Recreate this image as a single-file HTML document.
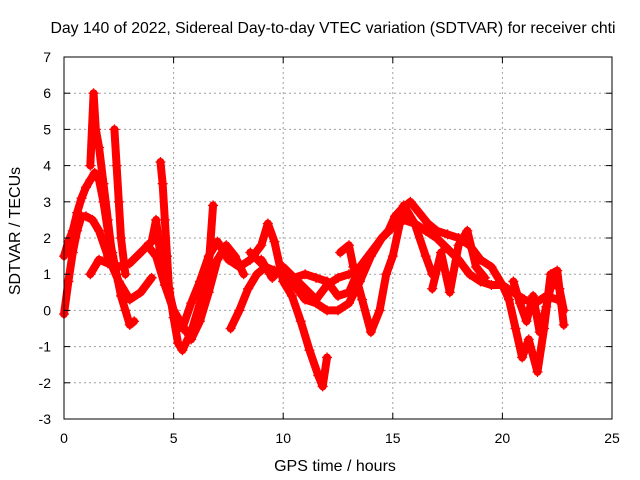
<!DOCTYPE html>
<html><head><meta charset="utf-8"><style>
body{margin:0;background:#fff}
svg{display:block;font-family:"Liberation Sans",sans-serif}
</style></head><body>
<svg id="chart" width="640" height="480">
<text x="333" y="33" text-anchor="middle" font-size="15.8">Day 140 of 2022, Sidereal Day-to-day VTEC variation (SDTVAR) for receiver chti</text>
<text transform="translate(20,231) rotate(-90)" text-anchor="middle" font-size="16">SDTVAR / TECUs</text>
<text x="335" y="471" text-anchor="middle" font-size="16">GPS time / hours</text>
<g id="grid"></g><g id="marks"></g><g id="axes"></g>
</svg>
<script>
const xTicks=[0,5,10,15,20,25];
const yTicks=[-3,-2,-1,0,1,2,3,4,5,6,7];
const s1T=[0,0.2,0.4,0.6,0.8,1.0,1.2,1.4,1.6,1.8,2.0,2.2,2.4,2.6,2.8,3.0,3.2];
const s1V=[1.5,1.9,2.2,2.7,3.1,3.4,3.6,3.8,3.6,3.0,2.2,1.6,1.0,0.4,0.0,-0.4,-0.3];
const s2T=[1.2,1.35,1.45,1.6,1.8,2.0,2.2];
const s2V=[4.0,6.0,5.0,4.5,3.5,2.5,1.5];
const s3T=[2.3,2.4,2.5,2.6,2.8];
const s3V=[5.0,4.0,3.0,2.0,1.0];
const s4T=[0,0.2,0.4,0.6,0.8,1.0,1.3,1.6,2.0,2.5,3.0,3.5,4.0];
const s4V=[-0.1,0.8,1.6,2.2,2.6,2.6,2.5,2.2,1.5,0.8,0.3,0.5,0.9];
const s5T=[1.2,1.6,2.0,2.5,3.0,3.5,4.0,4.2,4.4,4.8,5.0,5.2,5.4,5.8,6.2,6.6,6.8];
const s5V=[1.0,1.4,1.3,1.2,1.3,1.6,1.9,2.5,1.5,0.6,-0.2,-0.9,-1.1,-0.6,0.2,1.2,2.9];
const s6T=[4.4,4.5,4.6,4.7,4.8,5.0,5.3,5.8,6.2,6.6,7.0,7.4,7.8,8.2];
const s6V=[4.1,3.5,2.5,1.5,0.5,0.0,-0.3,-0.8,-0.3,0.5,1.4,1.8,1.5,1.0];
const s7T=[3.8,4.2,4.6,5.0,5.4,5.8,6.2,6.6,7.0,7.5,8.0,8.5,9.0,9.3,9.6,10.0,10.4,10.8,11.2,11.6,11.8,12.0];
const s7V=[1.8,1.5,0.7,0.0,-0.5,0.2,0.8,1.5,1.9,1.4,1.2,1.4,1.8,2.4,1.9,0.8,0.4,-0.3,-1.1,-1.8,-2.1,-1.3];
const s8T=[7.6,8.0,8.4,8.8,9.2,9.6,10.0,10.5,11.0,11.5,12.0,12.5,13.0,13.5,14.0,14.5,15.0,15.5,16.0,16.5,17.0,17.5,18.0,18.5,19.0,19.5,20.0,20.5,21.0,21.5,22.0,22.5];
const s8V=[-0.5,0.0,0.6,1.0,1.2,1.1,1.0,0.9,1.0,0.9,0.8,0.4,0.5,1.2,1.6,2.0,2.3,2.5,2.4,2.2,2.0,1.7,1.4,1.0,0.8,0.7,0.7,0.5,0.3,0.2,0.4,0.3];
const s9T=[8.5,9.0,9.5,10.0,10.5,11.0,11.5,12.0,12.5,13.0,13.5,14.0,14.5,14.8,15.1,15.4,15.8,16.2,16.6,17.0,17.5,18.0,18.5,19.0,19.5,20.0,20.3,20.6,20.9,21.2,21.6,21.9,22.2,22.5,22.8];
const s9V=[1.6,1.3,1.0,1.1,0.7,0.3,0.2,0.0,0.0,0.2,0.8,1.5,2.0,2.2,2.6,2.8,3.0,2.7,2.4,2.2,2.1,2.0,1.8,1.4,1.2,0.7,0.3,-0.5,-1.3,-0.8,-1.7,-0.5,1.0,1.1,-0.4];
const s10T=[12.6,13.0,13.2,13.6,14.0,14.4,14.7,15.0,15.5,16.0,16.5,16.8];
const s10V=[1.6,1.8,1.2,0.3,-0.6,0.0,1.0,1.5,2.9,2.4,1.5,1.0];
const s11T=[16.8,17.2,17.6,18.0,18.4,18.8,19.2];
const s11V=[0.6,1.6,0.5,1.8,2.2,1.2,0.9];
const s12T=[9.0,9.5,10.0,10.5,11.0,11.5,12.0,12.5,13.0];
const s12V=[1.4,0.9,1.2,0.9,0.6,0.3,0.7,0.9,1.0];
const s13T=[20.5,20.8,21.1,21.4,21.7,22.0,22.3,22.6,22.8];
const s13V=[0.8,0.2,-0.3,0.4,-0.6,0.1,0.9,0.6,0.0];
const series=[[s1T,s1V],[s2T,s2V],[s3T,s3V],[s4T,s4V],[s5T,s5V],[s6T,s6V],[s7T,s7V],[s8T,s8V],[s9T,s9V],[s10T,s10V],[s11T,s11V],[s12T,s12V],[s13T,s13V]];
const X0=64,X1=612,Y0=419,Y1=57;
const xs=t=>X0+(t-0)/(25-0)*(X1-X0);
const ys=v=>Y0-(v-(-3))/(7-(-3))*(Y0-Y1);
const NS="http://www.w3.org/2000/svg";
function mk(tag,attrs,parent){const e=document.createElementNS(NS,tag);for(const k in attrs)e.setAttribute(k,attrs[k]);parent.appendChild(e);return e;}
const grid=document.getElementById('grid'),axes=document.getElementById('axes'),marks=document.getElementById('marks');
xTicks.forEach(t=>{
  const x=xs(t);
  if(t>0&&t<25){const g=mk('line',{x1:x,x2:x,y1:Y1,y2:Y0,stroke:'#a0a0a0','stroke-dasharray':'2,3'},grid);
  
  }
  mk('line',{x1:x,x2:x,y1:Y0,y2:Y0-6,stroke:'#000'},axes);
  mk('line',{x1:x,x2:x,y1:Y1,y2:Y1+6,stroke:'#000'},axes);
  const l=mk('text',{x:x,y:443,'text-anchor':'middle','font-size':14},axes);l.textContent=t;
  
  
});
yTicks.forEach(v=>{
  const y=ys(v);
  if(v>-3&&v<7){const g=mk('line',{x1:X0,x2:X1,y1:y,y2:y,stroke:'#a0a0a0','stroke-dasharray':'2,3'},grid);
  
  }
  mk('line',{x1:X0,x2:X0+6,y1:y,y2:y,stroke:'#000'},axes);
  mk('line',{x1:X1,x2:X1-6,y1:y,y2:y,stroke:'#000'},axes);
  const l=mk('text',{x:51,y:y+5,'text-anchor':'end','font-size':14},axes);l.textContent=v;
  
  
});
const fr=mk('rect',{x:X0,y:Y1,width:X1-X0,height:Y0-Y1,fill:'none',stroke:'#000'},axes);


series.forEach(([T,V],i)=>{
  const pts=T.map((t,j)=>xs(t)+','+ys(V[j])).join(' ');
  const pl=mk('polyline',{points:pts,fill:'none',stroke:'#ff0000','stroke-width':8,'stroke-linejoin':'round','stroke-linecap':'round'},marks);
  
  
  T.forEach((t,j)=>{
    const x=xs(t),y=ys(V[j]);
    const p=mk('path',{d:`M${x-5},${y}h10M${x},${y-5}v10`,stroke:'#ff0000','stroke-width':1.3},marks);
    
    
  });
});
</script>
</body></html>
